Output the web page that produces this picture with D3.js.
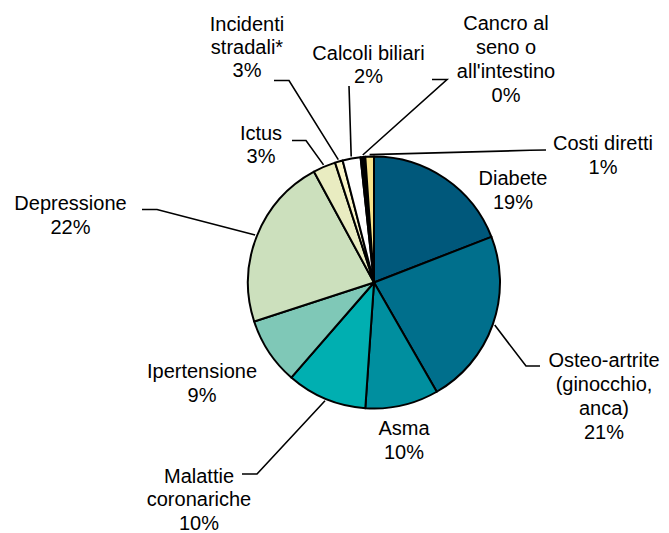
<!DOCTYPE html>
<html>
<head>
<meta charset="utf-8">
<script src="https://cdn.jsdelivr.net/npm/d3@7"></script>
<style>
  html, body { margin: 0; padding: 0; background: #fff; }
  svg { display: block; }
  text { font-family: "Liberation Sans", Arial, sans-serif; font-size: 20px; fill: #000; }
</style>
</head>
<body>
<svg id="chart" width="669" height="533"></svg>
<script>
// ---- Data ----
const categories = [
  "Diabete",
  "Osteo-artrite (ginocchio, anca)",
  "Asma",
  "Malattie coronariche",
  "Ipertensione",
  "Depressione",
  "Ictus",
  "Incidenti stradali*",
  "Calcoli biliari",
  "Cancro al seno o all'intestino",
  "Costi diretti"
];
// slice sizes as drawn (share of the circle, %)
const sliceValues = [19.1, 22.6, 9.4, 10.3, 8.6, 22.1, 2.9, 1.0, 2.3, 0.6, 1.1];
// percentage labels as printed
const pctLabels = ["19%", "21%", "10%", "10%", "9%", "22%", "3%", "3%", "2%", "0%", "1%"];
// label text lines
const labelLines = [
  ["Diabete"],
  ["Osteo-artrite", "(ginocchio,", "anca)"],
  ["Asma"],
  ["Malattie", "coronariche"],
  ["Ipertensione"],
  ["Depressione"],
  ["Ictus"],
  ["Incidenti", "stradali*"],
  ["Calcoli biliari"],
  ["Cancro al", "seno o", "all'intestino"],
  ["Costi diretti"]
];
const colors = ["#00587b", "#006f8c", "#008f9f", "#00afb1", "#7fc8b7", "#cce0bd",
                "#e9ecc1", "#faf5c9", "#ffffff", "#000000", "#f6e38b"];

// ---- Layout (positions, not data) ----
const cx = 374, cy = 282.5, R = 126;
// label anchor: center x, first baseline y, line step; leader: elbow points (null = no leader)
const labelLayout = [
  {x: 513, y: 185, step: 24, leader: null},
  {x: 604, y: 367, step: 24, leader: [[526, 366], [540, 366]]},
  {x: 404, y: 435, step: 24, leader: null},
  {x: 199, y: 482.5, step: 23.5, leader: [[257, 474], [242, 474]]},
  {x: 202, y: 378, step: 24, leader: null},
  {x: 70.5, y: 210, step: 23.5, leader: [[157, 209.5], [142, 209.5]]},
  {x: 261, y: 139.5, step: 23, leader: [[306, 140.5], [292, 140.5]]},
  {x: 247, y: 31, step: 23, leader: [[289, 80.5], [274, 80.5]]},
  {x: 368.5, y: 60, step: 23, leader: [[349, 86]]},
  {x: 506, y: 29.5, step: 24, leader: [[447, 79.5], [432, 79.5]]},
  {x: 603, y: 150, step: 24, leader: [[530, 150.3], [546, 150]]}
];

const svg = d3.select("#chart");
const g = svg.append("g").attr("transform", `translate(${cx},${cy})`);

const data = categories.map((c, i) => ({name: c, value: sliceValues[i], i}));
const pie = d3.pie().sort(null).value(d => d.value);
const arcs = pie(data);
const arc = d3.arc().innerRadius(0).outerRadius(R);

g.selectAll("path.slice")
  .data(arcs)
  .join("path")
  .attr("class", "slice")
  .attr("d", arc)
  .attr("fill", d => colors[d.data.i])
  .attr("stroke", "#000")
  .attr("stroke-width", 2)
  .attr("stroke-linejoin", "round");

// leader lines
const line = d3.line();
arcs.forEach(a => {
  const L = labelLayout[a.data.i];
  if (!L.leader) return;
  const mid = (a.startAngle + a.endAngle) / 2;
  const rr = R + 2;
  const p0 = [cx + rr * Math.sin(mid), cy - rr * Math.cos(mid)];
  const pts = [p0, ...L.leader];
  svg.append("path")
    .attr("d", line(pts))
    .attr("fill", "none")
    .attr("stroke", "#000")
    .attr("stroke-width", 1.6);
});

// labels
arcs.forEach(a => {
  const i = a.data.i;
  const L = labelLayout[i];
  const lines = labelLines[i].concat([pctLabels[i]]);
  const t = svg.append("text").attr("text-anchor", "middle");
  lines.forEach((s, k) => {
    t.append("tspan").attr("x", L.x).attr("y", L.y + k * L.step).text(s);
  });
});
</script>
</body>
</html>
